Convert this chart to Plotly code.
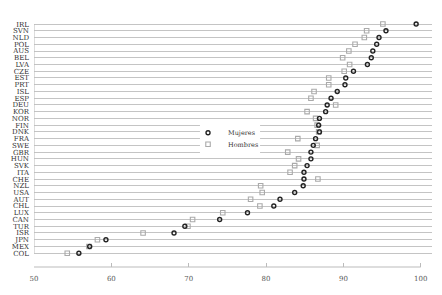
import plotly.graph_objects as go

countries = ["IRL", "SVN", "NLD", "POL", "AUS", "BEL", "LVA", "CZE", "EST", "PRT",
             "ISL", "ESP", "DEU", "KOR", "NOR", "FIN", "DNK", "FRA", "SWE", "GBR",
             "HUN", "SVK", "ITA", "CHE", "NZL", "USA", "AUT", "CHL", "LUX", "CAN",
             "TUR", "ISR", "JPN", "MEX", "COL"]
mujeres = [99.4, 95.5, 94.6, 94.3, 93.8, 93.6, 93.1, 91.3, 90.3, 90.2,
           89.2, 88.4, 87.9, 87.7, 86.9, 86.8, 86.9, 86.4, 86.1, 85.8,
           85.8, 85.3, 84.9, 84.9, 84.8, 83.7, 81.8, 81.0, 77.6, 74.0,
           69.5, 68.1, 59.3, 57.2, 55.8]
hombres = [95.1, 93.0, 92.7, 91.5, 90.7, 89.9, 90.8, 90.1, 88.1, 88.1,
           86.2, 85.8, 89.0, 85.3, 86.4, 86.6, 86.8, 84.1, 86.6, 82.8,
           84.2, 83.7, 83.1, 86.7, 79.3, 79.5, 78.0, 79.2, 74.4, 70.5,
           69.9, 64.1, 58.2, 57.1, 54.3]
x_ticks = [50, 60, 70, 80, 90, 100]

n = len(countries)
ypos = [n - 1 - i for i in range(n)]  # IRL on top

FONT = "DejaVu Serif"

fig = go.Figure()
fig.add_trace(go.Scatter(
    x=hombres, y=ypos, mode="markers", name="Hombres", legend="legend2",
    marker=dict(symbol="square-open", size=4.5, color="#aaaaaa", line=dict(width=1.1, color="#aaaaaa")),
    hoverinfo="x+name",
))
fig.add_trace(go.Scatter(
    x=mujeres, y=ypos, mode="markers", name="Mujeres", legend="legend",
    marker=dict(symbol="circle-open", size=4, color="#222222", line=dict(width=1.4, color="#222222")),
    hoverinfo="x+name",
))

# axis line (50..100) and left vertical rule
fig.add_shape(type="line", xref="x", yref="paper", x0=x_ticks[0], x1=x_ticks[-1], y0=0, y1=0,
              line=dict(color="#bbbbbb", width=1))
fig.add_shape(type="line", xref="x", yref="y", x0=x_ticks[0], x1=x_ticks[0], y0=0, y1=n - 1,
              line=dict(color="#bbbbbb", width=1))
# white panel behind the legend
fig.add_shape(type="rect", xref="paper", yref="paper", x0=0.417, x1=0.568, y0=0.45, y1=0.586,
              fillcolor="white", line=dict(width=0), layer="above")

leg_common = dict(xanchor="left", yanchor="middle", bgcolor="rgba(0,0,0,0)",
                  font=dict(family=FONT, size=6.5, color="#333333"))

fig.update_layout(
    width=442, height=295,
    margin=dict(l=34, r=10, t=18, b=28),
    paper_bgcolor="white", plot_bgcolor="white",
    font=dict(family=FONT, size=7, color="#333333"),
    xaxis=dict(range=[50, 101.45], tickvals=x_ticks, ticks="inside", ticklen=4,
               tickcolor="#bbbbbb", showgrid=False, zeroline=False, showline=False,
               ticklabelstandoff=6,
               tickfont=dict(family=FONT, size=7, color="#555555")),
    yaxis=dict(range=[-2.05, n - 1 + 0.9], tickvals=ypos, ticktext=countries,
               showgrid=True, gridcolor="#c4c4c4", gridwidth=1, zeroline=False,
               showline=False, ticks="", ticklabelstandoff=4,
               tickfont=dict(family=FONT, size=7, color="#333333")),
    legend=dict(x=0.387, y=0.539, **leg_common),
    legend2=dict(x=0.387, y=0.493, **leg_common),
    showlegend=True,
)

fig.write_html("out.html")
